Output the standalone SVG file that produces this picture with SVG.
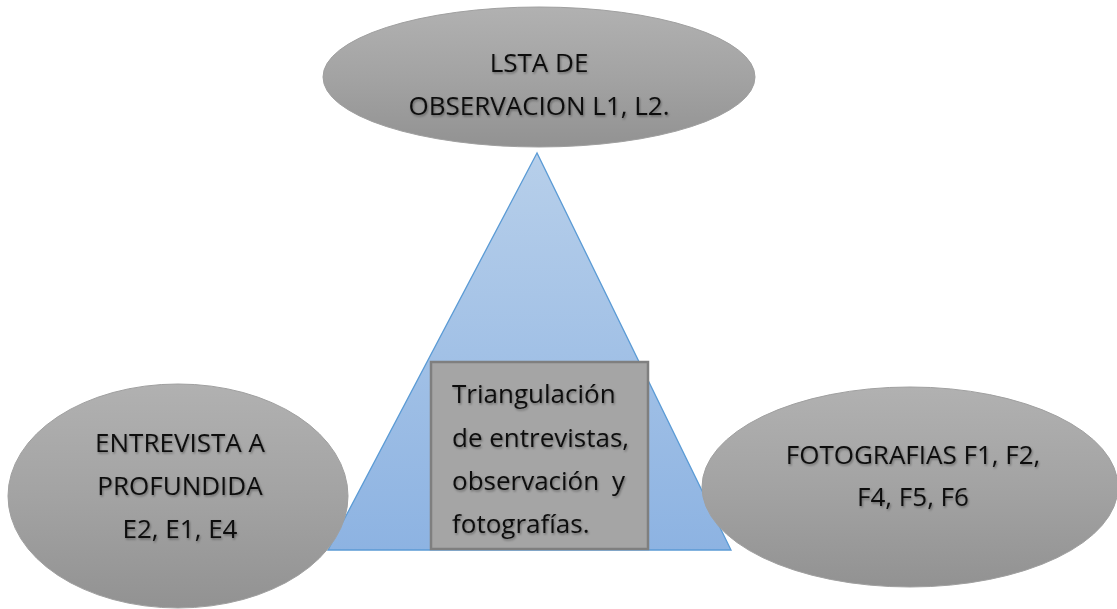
<svg xmlns="http://www.w3.org/2000/svg" width="1117" height="609" viewBox="0 0 1117 609">
<defs>
<linearGradient id="grey" x1="0" y1="0" x2="0" y2="1">
<stop offset="0" stop-color="#b1b1b1"/>
<stop offset="0.5" stop-color="#a3a3a3"/>
<stop offset="1" stop-color="#929292"/>
</linearGradient>
<linearGradient id="blue" x1="0" y1="0" x2="0" y2="1">
<stop offset="0" stop-color="#b7cfea"/>
<stop offset="1" stop-color="#8db3e2"/>
</linearGradient>
<filter id="ts" x="-10%" y="-30%" width="120%" height="160%">
<feDropShadow dx="1" dy="1.5" stdDeviation="1" flood-color="#000" flood-opacity="0.35"/>
</filter>
</defs>
<style>
.oval{fill:url(#grey);stroke:#a0a0a0;stroke-width:1}
.t{font-family:"Open Sans","Liberation Sans",sans-serif;font-size:26px;fill:#111;filter:url(#ts)}
.c{text-anchor:middle}
</style>
<rect width="1117" height="609" fill="#fff"/>
<g id="triangle">
<polygon points="537,153 328,550 731,550" fill="url(#blue)" stroke="#5b9bd5" stroke-width="1.3"/>
</g>
<g id="node-top">
<ellipse class="oval" cx="539" cy="77" rx="216" ry="70"/>
<text class="t c" x="539" y="72">LSTA DE</text>
<text class="t c" x="539" y="115">OBSERVACION L1, L2.</text>
</g>
<g id="node-left">
<ellipse class="oval" cx="178" cy="496" rx="170" ry="112"/>
<text class="t c" x="180" y="452">ENTREVISTA A</text>
<text class="t c" x="180" y="495">PROFUNDIDA</text>
<text class="t c" x="180" y="538">E2, E1, E4</text>
</g>
<g id="node-right">
<ellipse class="oval" cx="910" cy="487" rx="208" ry="100"/>
<text class="t c" x="913" y="464">FOTOGRAFIAS F1, F2,</text>
<text class="t c" x="913" y="506">F4, F5, F6</text>
</g>
<g id="node-center">
<rect x="431" y="362" width="217" height="187" fill="#a5a5a5" stroke="#7f7f7f" stroke-width="2.5"/>
<text class="t" x="452" y="403">Triangulación</text>
<text class="t" x="452" y="447">de entrevistas,</text>
<text class="t" x="452" y="490">observación</text>
<text class="t" x="625" y="490" text-anchor="end">y</text>
<text class="t" x="452" y="533">fotografías.</text>
</g>
<g id="connectors"></g>
</svg>
